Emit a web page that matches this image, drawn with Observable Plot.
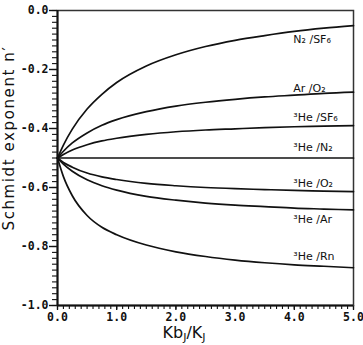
<!DOCTYPE html>
<html><head><meta charset="utf-8">
<script src="https://cdn.jsdelivr.net/npm/d3@7"></script>
<script src="https://cdn.jsdelivr.net/npm/@observablehq/plot@0.6"></script>
<style>body{margin:0;background:#fff}#chart svg{display:block}</style>
</head><body><div id="chart"></div>
<script>
// Kb_J / K_J values at which the curves were read
const xValues = [0, 0.1, 0.25, 0.5, 0.75, 1, 1.5, 2, 2.5, 3, 3.5, 4, 4.5, 5];
const seriesNames = ["N₂ /SF₆", "Ar /O₂", "³He /SF₆", "³He /N₂", "³He /O₂", "³He /Ar", "³He /Rn"];
const n2sf6  = [-0.5, -0.456, -0.402, -0.334, -0.284, -0.244, -0.188, -0.150, -0.122, -0.101, -0.085, -0.071, -0.060, -0.051];
const aro2   = [-0.5, -0.477, -0.449, -0.415, -0.389, -0.370, -0.343, -0.324, -0.311, -0.301, -0.293, -0.287, -0.281, -0.277];
const he3sf6 = [-0.5, -0.488, -0.473, -0.455, -0.442, -0.433, -0.420, -0.411, -0.405, -0.401, -0.397, -0.394, -0.392, -0.390];
const he3n2  = [-0.5, -0.5, -0.5, -0.5, -0.5, -0.5, -0.5, -0.5, -0.5, -0.5, -0.5, -0.5, -0.5, -0.5];
const he3o2  = [-0.5, -0.515, -0.531, -0.551, -0.564, -0.573, -0.586, -0.594, -0.600, -0.604, -0.607, -0.610, -0.612, -0.614];
const he3ar  = [-0.5, -0.521, -0.545, -0.574, -0.594, -0.609, -0.630, -0.643, -0.653, -0.660, -0.665, -0.670, -0.673, -0.676];
const he3rn  = [-0.5, -0.563, -0.628, -0.695, -0.735, -0.760, -0.795, -0.818, -0.834, -0.846, -0.855, -0.862, -0.867, -0.872];
const yTicks = [0, -0.2, -0.4, -0.6, -0.8, -1.0];
const xTicks = [0, 1, 2, 3, 4, 5];

const allSeries = [n2sf6, aro2, he3sf6, he3n2, he3o2, he3ar, he3rn];
const rows = [];
allSeries.forEach((vals, i) => vals.forEach((v, j) => rows.push({series: seriesNames[i], x: xValues[j], y: v})));

// label placement: x where label starts, pixel offset from the curve value there
const labelX = 4;
const labelDy = [8, -7, -9, -11, -7, 11, -8];
const labelMarks = seriesNames.map((name, i) => Plot.text([{name, v: allSeries[i][xValues.indexOf(labelX)]}], {
  x: () => labelX, y: "v", text: "name", textAnchor: "start", dy: labelDy[i], dx: -1,
  fontSize: 11, fontFamily: "DejaVu Sans", fill: "#111"
}));

const fmt = d => d.toFixed(1);
const minorY = d3.range(0, 51).map(i => -i * 0.02);
const minorX = d3.range(0, 51).map(i => i * 0.1);

const chart = Plot.plot({
  width: 363, height: 345,
  marginLeft: 57, marginRight: 10, marginTop: 10, marginBottom: 40,
  x: {domain: [0, 5]},
  y: {domain: [-1, 0]},
  style: {fontFamily: "DejaVu Sans Mono", background: "#fff", color: "#111"},
  marks: [
    // minor ticks, outside the frame
    Plot.ruleY(minorY, {x1: 0, x2: 0, insetLeft: -5, stroke: "#111", strokeWidth: 1.1}),
    Plot.ruleX(minorX, {y1: -1, y2: -1, insetBottom: -4, stroke: "#111", strokeWidth: 1.1}),
    Plot.axisY(yTicks, {tickSize: 8, tickPadding: 1, tickFormat: fmt, fontSize: 11.5, fontWeight: "bold", stroke: "#111", strokeWidth: 1.4, strokeOpacity: 1, label: null}),
    Plot.axisX(xTicks, {tickSize: 5, tickPadding: 2, tickFormat: fmt, fontSize: 11.5, fontWeight: "bold", stroke: "#111", strokeWidth: 1.3, strokeOpacity: 1, label: null}),
    Plot.frame({stroke: "#333", strokeWidth: 1.5}),
    Plot.ruleX([0], {strokeWidth: 2}),
    Plot.ruleY([-1], {strokeWidth: 2}),
    Plot.line(rows, {x: "x", y: "y", z: "series", curve: "monotone-x", stroke: "#111", strokeWidth: 1.7}),
    ...labelMarks
  ]
});
document.getElementById("chart").appendChild(chart);

const svg = d3.select(chart);
// y-axis title
svg.append("text")
  .attr("transform", "translate(14,138) rotate(-90)")
  .attr("text-anchor", "middle")
  .attr("font-family", "DejaVu Sans")
  .attr("font-size", 15)
  .attr("letter-spacing", "1.6px")
  .attr("fill", "#111")
  .text("Schmidt exponent n′");
// x-axis title
const xt = svg.append("text")
  .attr("x", 184).attr("y", 338)
  .attr("text-anchor", "middle")
  .attr("font-family", "DejaVu Sans")
  .attr("font-size", 16)
  .attr("fill", "#111");
xt.append("tspan").text("Kb");
xt.append("tspan").attr("font-size", 11).attr("dy", 3).text("J");
xt.append("tspan").attr("dy", -3).text("/K");
xt.append("tspan").attr("font-size", 11).attr("dy", 3).text("J");
</script>
</body></html>
